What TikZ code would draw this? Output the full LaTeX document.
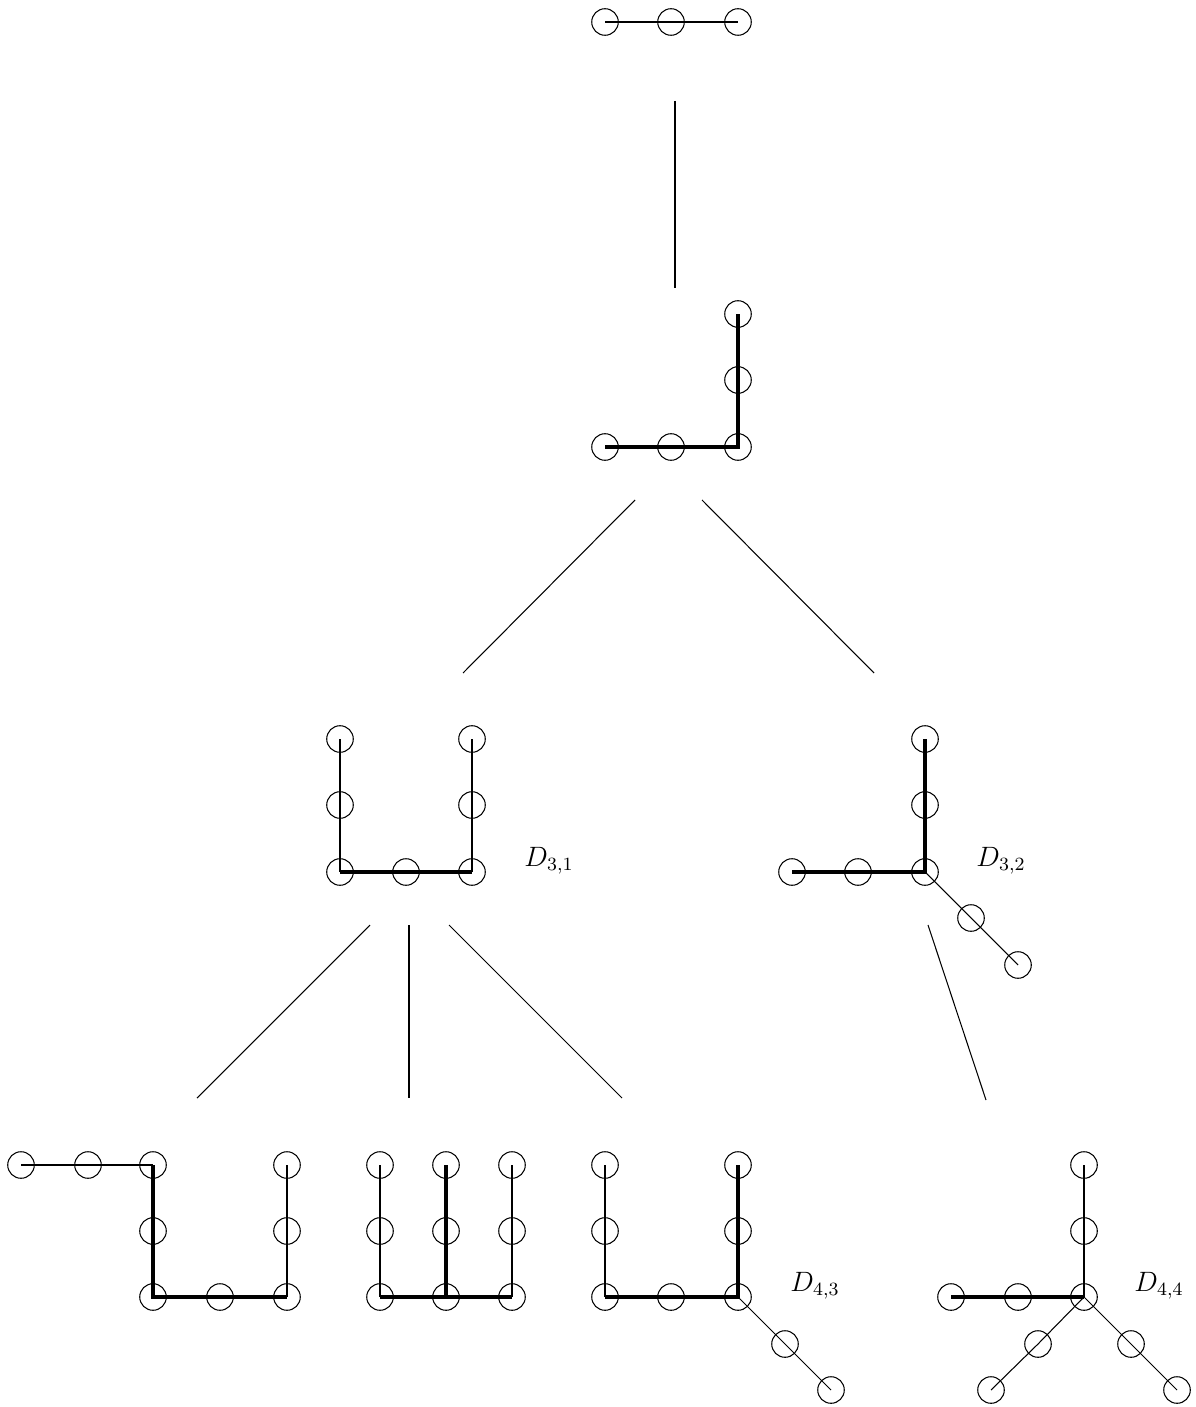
\documentclass[tikz,border=0pt]{standalone}
\begin{document}
\begin{tikzpicture}[x=0.01506cm,y=-0.01506cm,
  vx/.style={circle,draw,line width=0.45pt,inner sep=0pt,minimum size=0.4cm},
  thinl/.style={line width=0.45pt},
  medl/.style={line width=0.9pt},
  bold/.style={line width=1.4pt},
  lab/.style={inner sep=0pt,font=\large}]
\useasboundingbox (0,0) rectangle (1195,1407);
% ---- row 1
\foreach \n/\x/\y in {a1/605/22, a2/671/22, a3/738/22}
  \node[vx] (\n) at (\x,\y) {};
\draw[medl] (a1.center) -- (a2.center) -- (a3.center);
% ---- row 2
\foreach \n/\x/\y in {b1/605/447, b2/671/447, b3/738/447, b4/738/380, b5/738/314}
  \node[vx] (\n) at (\x,\y) {};
\draw[bold] (b1.center) -- (b2.center) -- (b3.center) -- (b4.center) -- (b5.center);
% ---- row 3, D31
\foreach \n/\x/\y in {c1/340/739, c2/340/805, c3/340/872, c4/406/872, c5/472/872, c6/472/805, c7/472/739}
  \node[vx] (\n) at (\x,\y) {};
\draw[medl] (c1.center) -- (c2.center) -- (c3.center);
\draw[bold] (c3.center) -- (c4.center) -- (c5.center);
\draw[medl] (c5.center) -- (c6.center) -- (c7.center);
\node[lab] (l31) at (549,861) {$D_{3,1}$};
% ---- row 3, D32
\foreach \n/\x/\y in {d1/792/872, d2/858/872, d3/925/872, d4/925/805, d5/925/739, d6/971/918, d7/1018/965}
  \node[vx] (\n) at (\x,\y) {};
\draw[bold] (d1.center) -- (d2.center) -- (d3.center) -- (d4.center) -- (d5.center);
\draw[thinl] (d3.center) -- (d6.center) -- (d7.center);
\node[lab] (l32) at (1001,861) {$D_{3,2}$};
% ---- row 4, A
\foreach \n/\x/\y in {e1/21/1165, e2/88/1165, e3/153/1165, e4/153/1231, e5/153/1297, e6/220/1297, e7/287/1297, e8/287/1231, e9/287/1165}
  \node[vx] (\n) at (\x,\y) {};
\draw[medl] (e1.center) -- (e2.center) -- (e3.center);
\draw[bold] (e3.center) -- (e4.center) -- (e5.center) -- (e6.center) -- (e7.center);
\draw[medl] (e7.center) -- (e8.center) -- (e9.center);
% ---- row 4, B
\foreach \n/\x/\y in {f1/380/1165, f2/380/1231, f3/380/1297, f4/446/1297, f5/512/1297, f6/512/1231, f7/512/1165, f8/446/1231, f9/446/1165}
  \node[vx] (\n) at (\x,\y) {};
\draw[medl] (f1.center) -- (f2.center) -- (f3.center);
\draw[bold] (f3.center) -- (f4.center) -- (f5.center);
\draw[medl] (f5.center) -- (f6.center) -- (f7.center);
\draw[bold] (f4.center) -- (f8.center) -- (f9.center);
% ---- row 4, D43
\foreach \n/\x/\y in {g1/605/1165, g2/605/1231, g3/605/1297, g4/671/1297, g5/738/1297, g6/738/1231, g7/738/1165, g8/785/1344, g9/831/1390}
  \node[vx] (\n) at (\x,\y) {};
\draw[medl] (g1.center) -- (g2.center) -- (g3.center);
\draw[bold] (g3.center) -- (g4.center) -- (g5.center) -- (g6.center) -- (g7.center);
\draw[thinl] (g5.center) -- (g8.center) -- (g9.center);
\node[lab] (l43) at (815,1286) {$D_{4,3}$};
% ---- row 4, D44
\foreach \n/\x/\y in {h1/951/1297, h2/1018/1297, h3/1084/1297, h4/1084/1231, h5/1084/1165, h6/1038/1344, h7/991/1390, h8/1131/1344, h9/1177/1390}
  \node[vx] (\n) at (\x,\y) {};
\draw[bold] (h1.center) -- (h2.center) -- (h3.center);
\draw[medl] (h3.center) -- (h4.center) -- (h5.center);
\draw[thinl] (h3.center) -- (h6.center) -- (h7.center);
\draw[thinl] (h3.center) -- (h8.center) -- (h9.center);
\node[lab] (l44) at (1159,1286) {$D_{4,4}$};
% ---- tree connectors
\coordinate (t1a) at (675,101);  \coordinate (t1b) at (675,288);
\coordinate (t2a) at (635,500);  \coordinate (t2b) at (463,673);
\coordinate (t3a) at (702,500);  \coordinate (t3b) at (874,673);
\coordinate (t4a) at (370,925);  \coordinate (t4b) at (197,1098);
\coordinate (t5a) at (409,925);  \coordinate (t5b) at (409,1098);
\coordinate (t6a) at (449,925);  \coordinate (t6b) at (622,1098);
\coordinate (t7a) at (928,925);  \coordinate (t7b) at (986,1100);
\draw[medl] (t1a) -- (t1b);
\draw[thinl] (t2a) -- (t2b);
\draw[thinl] (t3a) -- (t3b);
\draw[thinl] (t4a) -- (t4b);
\draw[medl] (t5a) -- (t5b);
\draw[thinl] (t6a) -- (t6b);
\draw[thinl] (t7a) -- (t7b);
\end{tikzpicture}
\end{document}
